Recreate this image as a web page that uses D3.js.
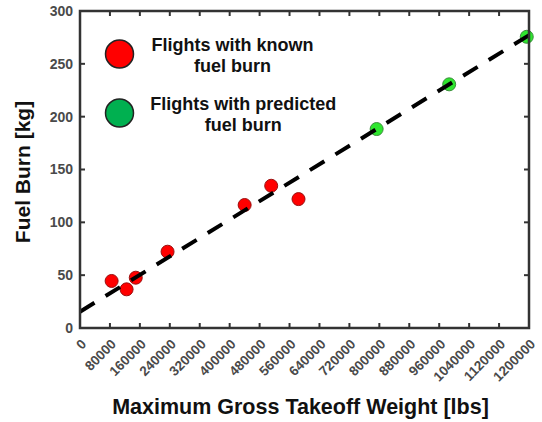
<!DOCTYPE html>
<html>
<head>
<meta charset="utf-8">
<script src="https://cdn.jsdelivr.net/npm/d3@7"></script>
<style>
  html, body { margin: 0; padding: 0; background: #fff; }
  svg { display: block; font-family: "Liberation Sans", Arial, sans-serif; }
</style>
</head>
<body>
<svg id="chart" width="542" height="422"></svg>
<script>
// Flights with known fuel burn
const knownMtow = [84500, 124500, 149000, 234000, 440000, 511000, 584000];
const knownBurn = [44.5, 36.6, 47.6, 72.2, 116.4, 134.6, 122];

// Flights with fuel burn predicted from the linear fit
const predMtow = [792800, 986700, 1194000];
const predBurn = [188.3, 230.6, 275.6];

// Linear fit end points
const fitMtow = [0, 1200000];
const fitBurn = [15.4, 277.1];

const xTicks = d3.range(0, 1200001, 80000);
const yTicks = [0, 50, 100, 150, 200, 250, 300];

const legendItems = [
  { lines: ["Flights with known", "fuel burn"], fill: "#ff0000" },
  { lines: ["Flights with predicted", "fuel burn"], fill: "#00b050" }
];

const W = 542, H = 422;
const m = { left: 80, right: 13, top: 11, bottom: 94 };
const svg = d3.select("#chart");

const x = d3.scaleLinear().domain([0, 1200000]).range([m.left, W - m.right]);
const y = d3.scaleLinear().domain([0, 300]).range([H - m.bottom, m.top]);

const axisColor = "#333";
const labelColor = "#4a4a4a";

// Points first, the fit line is drawn over them
svg.append("g").selectAll("circle")
  .data(d3.zip(knownMtow, knownBurn))
  .join("circle")
  .attr("cx", d => x(d[0])).attr("cy", d => y(d[1])).attr("r", 6.5)
  .attr("fill", "#ff0000").attr("stroke", "#9a1010").attr("stroke-width", 1);

svg.append("g").selectAll("circle")
  .data(d3.zip(predMtow, predBurn))
  .join("circle")
  .attr("cx", d => x(d[0])).attr("cy", d => y(d[1])).attr("r", 6.5)
  .attr("fill", "#2ee62e").attr("stroke", "#3c8c3c").attr("stroke-width", 1);

svg.append("path")
  .datum(d3.zip(fitMtow, fitBurn))
  .attr("d", d3.line().x(d => x(d[0])).y(d => y(d[1])))
  .attr("fill", "none").attr("stroke", "#000").attr("stroke-width", 4)
  .attr("stroke-dasharray", "17,13");

// Box axes with inward ticks
const tickLen = 5;
const gx = svg.append("g");
gx.selectAll("line.b").data(xTicks.slice(1, -1)).join("line")
  .attr("x1", d => x(d)).attr("x2", d => x(d))
  .attr("y1", y(0)).attr("y2", y(0) - tickLen)
  .attr("stroke", axisColor).attr("stroke-width", 2);
gx.selectAll("line.t").data(xTicks.slice(1, -1)).join("line")
  .attr("x1", d => x(d)).attr("x2", d => x(d))
  .attr("y1", y(300)).attr("y2", y(300) + tickLen)
  .attr("stroke", axisColor).attr("stroke-width", 2);

const gy = svg.append("g");
gy.selectAll("line.l").data(yTicks.slice(1, -1)).join("line")
  .attr("x1", x(0)).attr("x2", x(0) + tickLen)
  .attr("y1", d => y(d)).attr("y2", d => y(d))
  .attr("stroke", axisColor).attr("stroke-width", 2);
gy.selectAll("line.r").data(yTicks.slice(1, -1)).join("line")
  .attr("x1", x(1200000)).attr("x2", x(1200000) - tickLen)
  .attr("y1", d => y(d)).attr("y2", d => y(d))
  .attr("stroke", axisColor).attr("stroke-width", 2);

svg.append("rect")
  .attr("x", x(0)).attr("y", y(300))
  .attr("width", x(1200000) - x(0)).attr("height", y(0) - y(300))
  .attr("fill", "none").attr("stroke", axisColor).attr("stroke-width", 2.5);

// Tick labels
svg.append("g").selectAll("text").data(yTicks).join("text")
  .attr("x", x(0) - 7).attr("y", d => y(d)).attr("dy", "0.35em")
  .attr("text-anchor", "end").attr("font-size", 14).attr("font-weight", "bold")
  .attr("fill", labelColor).text(d => d);

svg.append("g").selectAll("text").data(xTicks).join("text")
  .attr("transform", d => `translate(${x(d) + 7},${y(0) + 17}) rotate(-45)`)
  .attr("text-anchor", "end").attr("font-size", 13.5).attr("font-weight", "bold")
  .attr("fill", labelColor).text(d => d);

// Axis titles
svg.append("text")
  .attr("x", (x(0) + x(1200000)) / 2 - 4).attr("y", 414)
  .attr("text-anchor", "middle").attr("font-size", 21.5).attr("font-weight", "bold")
  .attr("fill", "#111").text("Maximum Gross Takeoff Weight [lbs]");

svg.append("text")
  .attr("transform", `translate(30,172) rotate(-90)`)
  .attr("text-anchor", "middle").attr("font-size", 21).attr("font-weight", "bold")
  .attr("fill", "#111").text("Fuel Burn [kg]");

// Legend
const legend = svg.append("g");
const legendY = [54, 113];
const legendTextX = [232.5, 243.3];
legendItems.forEach((it, i) => {
  legend.append("circle")
    .attr("cx", 119.5).attr("cy", legendY[i]).attr("r", 14)
    .attr("fill", it.fill).attr("stroke", "#222").attr("stroke-width", 1.5);
  const t = legend.append("text")
    .attr("text-anchor", "middle").attr("font-size", 18).attr("font-weight", "bold")
    .attr("fill", "#111");
  it.lines.forEach((ln, j) => {
    t.append("tspan").attr("x", legendTextX[i]).attr("y", legendY[i] - 3 + j * 21).text(ln);
  });
});
</script>
</body>
</html>
